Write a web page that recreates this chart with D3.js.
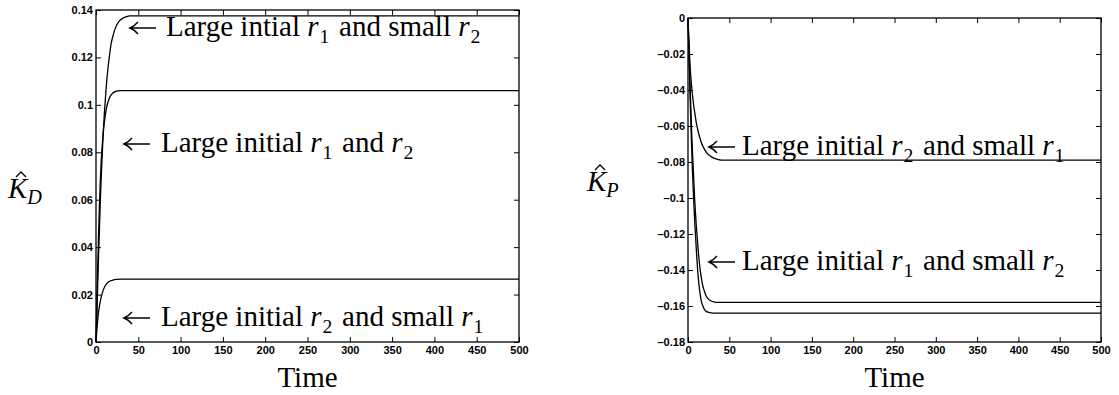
<!DOCTYPE html>
<html>
<head>
<meta charset="utf-8">
<script src="https://cdn.jsdelivr.net/npm/d3@7"></script>
<style>
  body { margin: 0; background: #fff; }
  svg { display: block; }
  .tick text { font-family: "Liberation Sans", Arial, sans-serif; font-weight: bold; font-size: 11px; fill: #000; }
  .tick line { stroke: #000; }
  .note { font-family: "Liberation Serif", "Times New Roman", serif; font-size: 29px; fill: #000; }
</style>
</head>
<body>
<svg width="1119" height="395"></svg>
<script>
// time samples shared by all curves
const time = [0, 1, 2, 3, 4, 5, 6, 7, 8, 9, 10, 12, 14, 16, 18, 20, 22, 25, 28, 32, 36, 40, 50, 500];

// K_D panel
const kdLargeR1SmallR2 = [0, .011, .024, .036, .047, .058, .068, .076, .084, .091, .097, .107, .115, .121, .126, .129, .1315, .134, .1355, .1366, .1372, .1375, .1375, .1375];
const kdLargeR1R2 = [0, .016, .031, .045, .057, .067, .075, .081, .086, .090, .093, .098, .101, .1030, .1042, .1050, .1055, .1058, .106, .106, .106, .106, .106, .106];
const kdLargeR2SmallR1 = [0, .005, .009, .0125, .015, .017, .0187, .0201, .0213, .0223, .0231, .0243, .0251, .0256, .0259, .0261, .0263, .0264, .0265, .0265, .0265, .0265, .0265, .0265];

// K_P panel
const kpLargeR2SmallR1 = [0, -.012, -.022, -.030, -.036, -.041, -.045, -.049, -.052, -.055, -.058, -.0625, -.066, -.069, -.0713, -.073, -.0745, -.076, -.077, -.078, -.0785, -.079, -.079, -.079];
const kpLargeR1SmallR2a = [0, -.015, -.030, -.044, -.058, -.070, -.080, -.090, -.100, -.108, -.115, -.127, -.137, -.144, -.149, -.152, -.1545, -.1563, -.1572, -.1578, -.158, -.158, -.158, -.158];
const kpLargeR1SmallR2b = [0, -.018, -.035, -.051, -.066, -.080, -.092, -.102, -.112, -.120, -.128, -.142, -.151, -.157, -.160, -.162, -.163, -.1635, -.1638, -.164, -.164, -.164, -.164, -.164];

// ticks
const timeTicks = [0, 50, 100, 150, 200, 250, 300, 350, 400, 450, 500];
const kdTicks = [0, 0.02, 0.04, 0.06, 0.08, 0.1, 0.12, 0.14];
const kdTickLabels = ["0", "0.02", "0.04", "0.06", "0.08", "0.1", "0.12", "0.14"];
const kpTicks = [0, -0.02, -0.04, -0.06, -0.08, -0.1, -0.12, -0.14, -0.16, -0.18];
const kpTickLabels = ["0", "\u20130.02", "\u20130.04", "\u20130.06", "\u20130.08", "\u20130.1", "\u20130.12", "\u20130.14", "\u20130.16", "\u20130.18"];

// annotations: plain strings and [italic, subscript] pairs
const kdNoteTop = ["Large intial ", ["r", "1"], " and small ", ["r", "2"]];
const kdNoteMid = ["Large initial ", ["r", "1"], " and ", ["r", "2"]];
const kdNoteLow = ["Large initial ", ["r", "2"], " and small ", ["r", "1"]];
const kpNoteTop = ["Large initial ", ["r", "2"], " and small ", ["r", "1"]];
const kpNoteLow = ["Large initial ", ["r", "1"], " and small ", ["r", "2"]];

const svg = d3.select("svg");
svg.append("rect").attr("width", 1119).attr("height", 395).attr("fill", "#fff");

function writeMath(sel, parts) {
  parts.forEach(p => {
    if (typeof p === "string") {
      sel.append("tspan").text(p);
    } else {
      sel.append("tspan").attr("font-style", "italic").text(p[0]);
      sel.append("tspan").attr("font-size", "0.68em").attr("dy", 7).attr("dx", 1).text(p[1]);
      sel.append("tspan").attr("dy", -7).text("\u200a");
    }
  });
}

// long TeX-like left arrow
function arrow(g, x0, y0) {
  g.append("path")
    .attr("d", `M${x0 + 26},${y0}H${x0 + 1}M${x0 + 8},${y0 - 6}Q${x0 + 4},${y0 - 1.5} ${x0},${y0}Q${x0 + 4},${y0 + 1.5} ${x0 + 8},${y0 + 6}`)
    .attr("fill", "none").attr("stroke", "#000").attr("stroke-width", 1.4);
}

function panel(box, yDomain, yTicks, yLabels, series, notes, sym) {
  const x = d3.scaleLinear().domain([0, 500]).range([box.left, box.right]);
  const y = d3.scaleLinear().domain(yDomain).range([box.bottom, box.top]);
  const g = svg.append("g");

  g.append("g").attr("transform", `translate(0,${box.bottom})`)
    .call(d3.axisBottom(x).tickValues(timeTicks).tickSize(-5).tickSizeOuter(0).tickPadding(4));
  g.append("g").attr("transform", `translate(0,${box.top})`)
    .call(d3.axisTop(x).tickValues(timeTicks).tickSize(-5).tickSizeOuter(0).tickFormat(""));
  g.append("g").attr("transform", `translate(${box.left},0)`)
    .call(d3.axisLeft(y).tickValues(yTicks).tickSize(-5).tickSizeOuter(0).tickPadding(3)
      .tickFormat((d, i) => yLabels[i]));
  g.append("g").attr("transform", `translate(${box.right},0)`)
    .call(d3.axisRight(y).tickValues(yTicks).tickSize(-5).tickSizeOuter(0).tickFormat(""));
  g.selectAll(".domain").remove();

  g.append("rect")
    .attr("x", box.left).attr("y", box.top)
    .attr("width", box.right - box.left).attr("height", box.bottom - box.top)
    .attr("fill", "none").attr("stroke", "#000").attr("stroke-width", 1.3);

  const line = d3.line().x((d, i) => x(time[i])).y(d => y(d)).curve(d3.curveMonotoneX);
  series.forEach(s => {
    g.append("path").datum(s).attr("d", line)
      .attr("fill", "none").attr("stroke", "#000").attr("stroke-width", 1.3);
  });

  notes.forEach(n => {
    arrow(g, n.ax, n.y - 8);
    const t = g.append("text").attr("class", "note").attr("x", n.tx).attr("y", n.y);
    writeMath(t, n.parts);
  });

  // x label
  g.append("text").attr("class", "note")
    .attr("x", (box.left + box.right) / 2).attr("y", box.bottom + 45)
    .attr("text-anchor", "middle").text("Time");

  // y label: K hat with subscript
  const yl = g.append("text").attr("class", "note").attr("x", sym.x).attr("y", sym.y)
    .style("font-size", "29px");
  yl.append("tspan").attr("font-style", "italic").text("K");
  yl.append("tspan").attr("font-style", "italic").attr("font-size", "0.7em").attr("dy", 6).text(sym.sub);
  const hx = sym.x + 13, hy = sym.y - 24;
  g.append("path").attr("d", `M${hx - 5},${hy + 3}L${hx},${hy - 2}L${hx + 5},${hy + 3}`)
    .attr("fill", "none").attr("stroke", "#000").attr("stroke-width", 1.3);
}

panel({ left: 96, right: 519, top: 10, bottom: 342 }, [0, 0.14], kdTicks, kdTickLabels,
  [kdLargeR1SmallR2, kdLargeR1R2, kdLargeR2SmallR1],
  [
    { ax: 130, tx: 166, y: 36, parts: kdNoteTop },
    { ax: 124, tx: 161, y: 152, parts: kdNoteMid },
    { ax: 124, tx: 161, y: 326, parts: kdNoteLow }
  ],
  { x: 8, y: 198, sub: "D" });

panel({ left: 688, right: 1101, top: 18, bottom: 342 }, [-0.18, 0], kpTicks, kpTickLabels,
  [kpLargeR2SmallR1, kpLargeR1SmallR2a, kpLargeR1SmallR2b],
  [
    { ax: 709, tx: 742, y: 155, parts: kpNoteTop },
    { ax: 709, tx: 742, y: 270, parts: kpNoteLow }
  ],
  { x: 587, y: 191, sub: "P" });
</script>
</body>
</html>
